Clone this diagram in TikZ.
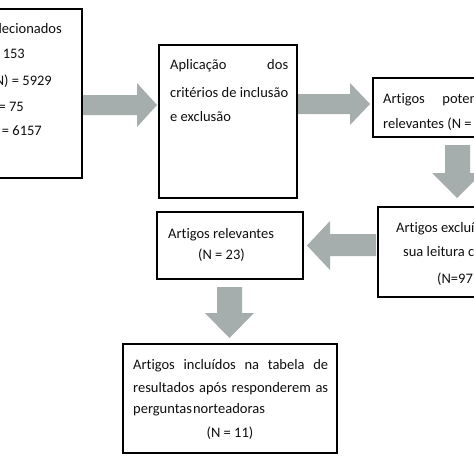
\documentclass[tikz,border=0pt]{standalone}
\usepackage{fontspec}
\setmainfont{Carlito}[Ligatures={NoCommon}]
\definecolor{arrowgray}{RGB}{166,173,173}
\definecolor{inkc}{RGB}{15,15,15}
\tikzset{
  box/.style={draw=black, line width=1.4pt},
  txt/.style={font=\fontsize{14.5}{17}\selectfont, text=inkc, inner sep=0pt, anchor=base west},
  txtr/.style={txt, anchor=base east},
  blockarrow/.style={fill=arrowgray, draw=none}
}
\begin{document}
\begin{tikzpicture}[x=1pt,y=-1pt]
\useasboundingbox (0,0) rectangle (474,474);
\fill[white] (0,0) rectangle (474,474);
\clip (0,0) rectangle (474,474);

% boxes
\draw[box] (-20,9) rectangle (82,178);
\draw[box] (159,45) rectangle (297,198);
\draw[box] (373,78) rectangle (495,137);
\draw[box] (378,207) rectangle (495,297);
\draw[box] (157,212) rectangle (303,279);
\draw[box] (123,344) rectangle (337,453);

% block arrows
\fill[blockarrow] (83,95) -- (137,95) -- (137,83) -- (157,105) -- (137,127) -- (137,115) -- (83,115) -- cycle;
\fill[blockarrow] (298,94) -- (350,94) -- (350,83) -- (370,104) -- (350,125) -- (350,114) -- (298,114) -- cycle;
\fill[blockarrow] (445,145) -- (470,145) -- (470,173) -- (482,173) -- (457,198) -- (432,173) -- (445,173) -- cycle;
\fill[blockarrow] (376,234) -- (330,234) -- (330,221) -- (307,245.5) -- (330,270) -- (330,256) -- (376,256) -- cycle;
\fill[blockarrow] (217,287) -- (242,287) -- (242,313) -- (254,313) -- (229.5,338) -- (205,313) -- (217,313) -- cycle;

% box 1 text (cut by the left edge)
\node[txtr] (t1a) at (62,33.5) {lecionados};
\node[txtr] (t1b) at (25,58.5) {= 153};
\node[txtr] (t1c) at (52,85.5) {(N) = 5929};
\node[txtr] (t1d) at (24,111.5) {= 75};
\node[txtr] (t1e) at (42,135.5) {= 6157};

% box 2 text
\node[txt] (t2a) at (170,69) {\makebox[118pt][s]{Aplicação dos}};
\node[txt] (t2b) at (170,97) {\makebox[118pt][s]{critérios de inclusão}};
\node[txt] (t2c) at (170,121) {e exclusão};

% box 3 text
\node[txt] (t3a) at (383,103) {\makebox[152pt][s]{Artigos potencialmente}};
\node[txt] (t3b) at (383,128) {relevantes (N = 1};

% box 4 text
\node[txt] (t4a) at (396,232) {Artigos excluídos};
\node[txt] (t4b) at (403,256) {sua leitura com};
\node[txt] (t4c) at (437,283) {(N=97};

% box 5 text
\node[txt] (t5a) at (168,238) {Artigos relevantes};
\node[txt] (t5b) at (198,259) {(N = 23)};

% box 6 text
\node[txt] (t6a) at (133,369) {\makebox[195pt][s]{Artigos incluídos na tabela de}};
\node[txt] (t6b) at (133,392) {\makebox[195pt][s]{resultados após responderem as}};
\node[txt] (t6c) at (133,413) {perguntas\hspace{1pt}norteadoras};
\node[txt, anchor=base] (t6d) at (230,437) {(N = 11)};
\end{tikzpicture}
\end{document}
